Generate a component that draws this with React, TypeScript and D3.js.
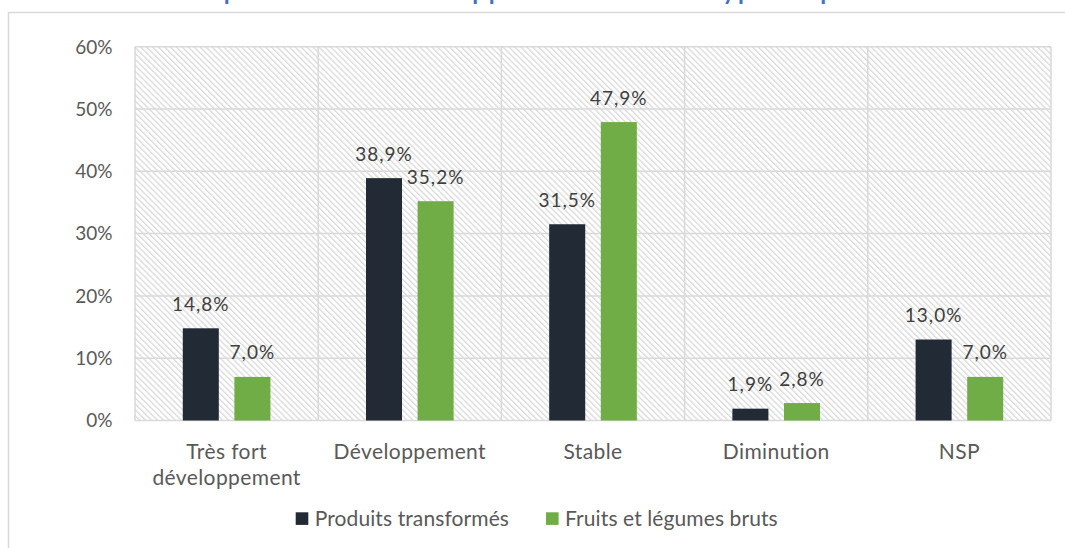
import React, { useEffect, useRef } from 'react';
import * as d3 from 'd3';

const categories = ['Très fort|développement', 'Développement', 'Stable', 'Diminution', 'NSP'];
const seriesNames = ['Produits transformés', 'Fruits et légumes bruts'];
const transformes = [14.8, 38.9, 31.5, 1.9, 13.0];
const bruts = [7.0, 35.2, 47.9, 2.8, 7.0];
const yTicks = [0, 10, 20, 30, 40, 50, 60];
const colors = ['#222a35', '#70ad47'];
const title = 'Avis : Perspectives de développement selon le type de produits offerts';

const App = () => {
    const ref = useRef<SVGSVGElement | null>(null);

    useEffect(() => {
        const svg = d3.select(ref.current);
        svg.selectAll('*').remove();

        const font = 'Lato, "Open Sans", sans-serif';
        const left = 135, right = 1051, top = 46.7, bottom = 420.5;

        // hatch pattern for the plot background
        const defs = svg.append('defs');
        const pat = defs
            .append('pattern')
            .attr('id', 'hatch')
            .attr('patternUnits', 'userSpaceOnUse')
            .attr('width', 4.2)
            .attr('height', 4.2)
            .attr('patternTransform', 'rotate(45)');
        pat.append('rect').attr('width', 4.2).attr('height', 4.2).attr('fill', '#fff');
        pat.append('line')
            .attr('x1', 0).attr('y1', 1).attr('x2', 4.2).attr('y2', 1)
            .attr('stroke', '#dadada').attr('stroke-width', 1.3);

        // outer frame
        svg.append('rect')
            .attr('x', 8.5).attr('y', 12.5).attr('width', 1080).attr('height', 560)
            .attr('fill', '#fff').attr('stroke', '#d9d9d9').attr('stroke-width', 1.5);

        // title (cut at top, as in the source)
        svg.append('text')
            .attr('x', 82).attr('y', -0.3)
            .attr('font-family', font).attr('font-weight', 'bold').attr('font-size', 24)
            .attr('textLength', 945).attr('lengthAdjust', 'spacing')
            .attr('fill', '#4472c4')
            .text(title);

        const x0 = d3.scaleBand().domain(categories).range([left, right]);
        const x1 = d3.scaleBand().domain(seriesNames).range([0, x0.bandwidth()]).paddingInner(0.302).paddingOuter(0.926);
        const y = d3.scaleLinear().domain([0, 60]).range([bottom, top]);

        svg.append('rect')
            .attr('x', left).attr('y', top).attr('width', right - left).attr('height', bottom - top)
            .attr('fill', 'url(#hatch)');

        // horizontal grid
        svg.append('g').selectAll('line').data(yTicks).enter().append('line')
            .attr('x1', left).attr('x2', right)
            .attr('y1', (d) => y(d)).attr('y2', (d) => y(d))
            .attr('stroke', '#d9d9d9').attr('stroke-width', 1.5);

        // vertical separators
        const seps = categories.map((c) => x0(c) as number).concat([right]);
        svg.append('g').selectAll('line').data(seps).enter().append('line')
            .attr('x1', (d) => d).attr('x2', (d) => d)
            .attr('y1', top).attr('y2', bottom)
            .attr('stroke', '#d9d9d9').attr('stroke-width', 1.5);

        // y tick labels
        svg.append('g').selectAll('text').data(yTicks).enter().append('text')
            .attr('x', 112.5).attr('y', (d) => y(d))
            .attr('dy', '0.36em')
            .attr('text-anchor', 'end')
            .attr('font-family', font).attr('font-size', 19).attr('fill', '#595959')
            .text((d) => `${d}%`);

        const values = [transformes, bruts];
        const data = categories.flatMap((c, i) =>
            seriesNames.map((s, j) => ({ cat: c, series: s, value: values[j][i], color: colors[j] }))
        );

        svg.append('g').selectAll('rect').data(data).enter().append('rect')
            .attr('x', (d) => (x0(d.cat) as number) + (x1(d.series) as number))
            .attr('y', (d) => y(d.value))
            .attr('width', x1.bandwidth())
            .attr('height', (d) => y(0) - y(d.value))
            .attr('fill', (d) => d.color);

        svg.append('g').selectAll('text').data(data).enter().append('text')
            .attr('x', (d) => (x0(d.cat) as number) + (x1(d.series) as number) + x1.bandwidth() / 2)
            .attr('y', (d) => y(d.value) - 17.5)
            .attr('text-anchor', 'middle')
            .attr('letter-spacing', 1)
            .attr('font-family', font).attr('font-size', 19).attr('fill', '#404040')
            .text((d) => d.value.toFixed(1).replace('.', ',') + '%');

        // category labels
        const catG = svg.append('g').selectAll('text').data(categories).enter().append('text')
            .attr('x', (d) => (x0(d) as number) + x0.bandwidth() / 2)
            .attr('y', 458.5)
            .attr('text-anchor', 'middle')
            .attr('letter-spacing', 0.4)
            .attr('font-family', font).attr('font-size', 21).attr('fill', '#595959');
        catG.each(function (d) {
            const t = d3.select(this);
            d.split('|').forEach((line, i) => {
                t.append('tspan')
                    .attr('x', (x0(d) as number) + x0.bandwidth() / 2)
                    .attr('dy', i === 0 ? 0 : 26)
                    .text(line);
            });
        });

        // legend
        const legendX = [295.7, 546];
        const leg = svg.append('g').selectAll('g').data(seriesNames).enter().append('g')
            .attr('transform', (d, i) => `translate(${legendX[i]},512.3)`);
        leg.append('rect').attr('width', 12.6).attr('height', 12.6).attr('fill', (d, i) => colors[i]);
        leg.append('text')
            .attr('x', 19).attr('y', 6.3).attr('dy', '0.36em')
            .attr('letter-spacing', 0.1)
            .attr('font-family', font).attr('font-size', 21).attr('fill', '#595959')
            .text((d) => d);
    }, []);

    return (
        <svg
            ref={ref}
            width={1065}
            height={548}
            style={{ position: 'absolute', left: 0, top: 0, background: '#fff' }}
        />
    );
};

export default App;
